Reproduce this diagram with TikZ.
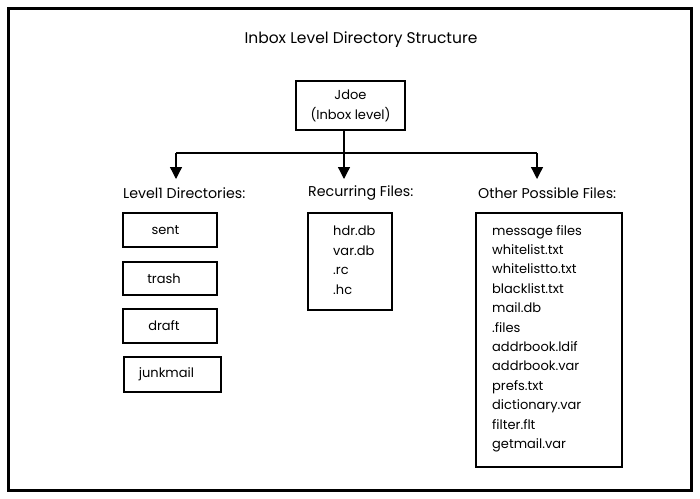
\documentclass[tikz,border=0pt]{standalone}
\usepackage{fontspec}
\setmainfont{Poppins}
\usetikzlibrary{arrows.meta}
\begin{document}
\begin{tikzpicture}[x=1pt,y=-1pt,
  box/.style={draw,line width=1.3pt,inner sep=0pt},
  lbl/.style={font=\fontsize{14.2}{16}\selectfont,anchor=west,inner sep=0pt},
  txt/.style={font=\fontsize{13}{16}\selectfont,inner sep=0pt},
  conn/.style={line width=1.3pt},
  arr/.style={line width=1.3pt,-{Triangle[length=12pt,width=12pt]}}]
\useasboundingbox (0,0) rectangle (700,498);
\draw[line width=3pt] (8,8) rectangle (691,490);
\node[font=\fontsize{15.5}{18}\selectfont,inner sep=0pt] (title) at (361,40) {Inbox Level Directory Structure};
\node[box,minimum width=109pt,minimum height=49pt,align=center,font=\fontsize{13}{20}\selectfont] (jdoe) at (350.5,105.5) {Jdoe\\(Inbox level)};
\coordinate (j) at (344,153);
\coordinate (l) at (176,153);
\coordinate (r) at (537,153);
\coordinate (lt) at (176,179);
\coordinate (mt) at (344,179);
\coordinate (rt) at (537,179);
\draw[conn] (jdoe.south -| j) -- (j);
\draw[conn] (l) -- (r);
\draw[arr] (l) -- (lt);
\draw[arr] (j) -- (mt);
\draw[arr] (r) -- (rt);
\node[lbl] (lev) at (123,193) {Level1 Directories:};
\node[lbl] (rec) at (308,193) {Recurring Files:};
\node[lbl] (oth) at (478,193) {Other Possible Files:};
\node[box,minimum width=94pt,minimum height=34pt,txt] (sent) at (170,230) {sent\hspace*{9pt}};
\node[box,minimum width=94pt,minimum height=33pt,txt] (trash) at (170,278.5) {trash\hspace*{12pt}};
\node[box,minimum width=94pt,minimum height=34pt,txt] (draft) at (170,326) {draft\hspace*{12pt}};
\node[box,minimum width=97pt,minimum height=35pt,txt] (junk) at (172.5,374.5) {junkmail\hspace*{12pt}};
\node[box,minimum width=84pt,minimum height=97pt] (recbox) at (350,261.5) {};
\node[txt,anchor=north west,align=left,font=\fontsize{13}{19.5}\selectfont] (rectxt) at (333,226) {hdr.db\\var.db\\.rc\\.hc};
\node[box,minimum width=146pt,minimum height=254pt] (othbox) at (549,340) {};
\node[txt,anchor=north west,align=left,font=\fontsize{13}{19.4}\selectfont] (othtxt) at (492,225) {message files\\whitelist.txt\\whitelistto.txt\\blacklist.txt\\mail.db\\.files\\addrbook.ldif\\addrbook.var\\prefs.txt\\dictionary.var\\filter.flt\\getmail.var};
\end{tikzpicture}
\end{document}
